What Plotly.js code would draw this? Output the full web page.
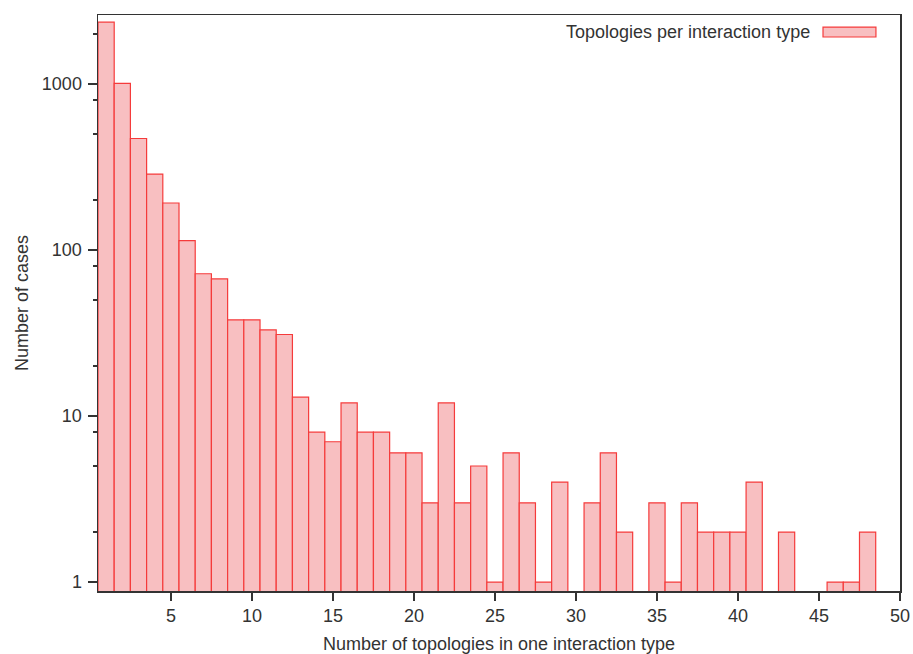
<!DOCTYPE html>
<html>
<head>
<meta charset="utf-8">
<script src="https://cdn.plot.ly/plotly-3.0.1.min.js"></script>
<style>html,body{margin:0;padding:0;background:#fff;}#chart{width:913px;height:654px;}</style>
</head>
<body>
<div id="chart"></div>
<script>
var topologies = [1,2,3,4,5,6,7,8,9,10,11,12,13,14,15,16,17,18,19,20,21,22,23,24,25,26,27,28,29,30,31,32,33,34,35,36,37,38,39,40,41,42,43,44,45,46,47,48];
var cases = [2360,1010,470,287,192,114,72,67,38,38,33,31,13,8,7,12,8,8,6,6,3,12,3,5,1,6,3,1,4,null,3,6,2,null,3,1,3,2,2,2,4,null,2,null,null,1,1,2];
var seriesName = "Topologies per interaction type";
var xTicks = [5,10,15,20,25,30,35,40,45,50];
var yTicks = [1,10,100,1000];
var yMinor = [2,5,8,20,50,80,200,500,800,2000];

var fontFam = "Liberation Sans, Arial, sans-serif";
var trace = {
  type: 'bar', x: topologies, y: cases, name: seriesName, width: 1,
  marker: {color: '#f8bfc1', line: {color: '#f53b3b', width: 1.2}},
  showlegend: false
};
var layout = {
  width: 913, height: 654,
  margin: {l: 98, r: 13, t: 15, b: 63},
  paper_bgcolor: '#fff', plot_bgcolor: '#fff',
  font: {family: fontFam, size: 18, color: '#333'},
  bargap: 0,
  xaxis: {
    range: [0.5, 50], tickmode: 'array', tickvals: xTicks,
    ticks: 'outside', ticklen: 8, tickwidth: 1.5, tickcolor: '#333',
    showline: true, linecolor: '#333', linewidth: 1.5, mirror: true,
    showgrid: false, zeroline: false,
    tickfont: {size: 18, color: '#333'},
    title: {text: 'Number of topologies in one interaction type', font: {size: 18, color: '#333'}, standoff: 12}
  },
  yaxis: {
    type: 'log', range: [-0.054, 3.416], tickmode: 'array', tickvals: yTicks, ticktext: yTicks.map(String),
    ticks: 'outside', ticklen: 9, tickwidth: 1.5, tickcolor: '#333',
    minor: {tickmode: 'array', tickvals: yMinor, ticks: 'outside', ticklen: 4, tickwidth: 1.5, tickcolor: '#333', showgrid: false},
    showline: true, linecolor: '#333', linewidth: 1.5, mirror: true,
    showgrid: false, zeroline: false,
    tickfont: {size: 18, color: '#333'},
    ticklabelstandoff: 2,
    title: {text: 'Number of cases', font: {size: 18, color: '#333'}, standoff: 8}
  },
  annotations: [{
    xref: 'paper', yref: 'paper', x: 0.8903, y: 0.9705, xanchor: 'right', yanchor: 'middle',
    text: seriesName, showarrow: false, font: {size: 18, color: '#333', family: fontFam}
  }],
  shapes: [{
    type: 'rect', xref: 'paper', yref: 'paper', x0: 0.904, x1: 0.970, y0: 0.9618, y1: 0.979,
    fillcolor: '#f8bfc1', line: {color: '#f53b3b', width: 1.2}
  }]
};
Plotly.newPlot('chart', [trace], layout, {displayModeBar: false, staticPlot: true});
</script>
</body>
</html>
